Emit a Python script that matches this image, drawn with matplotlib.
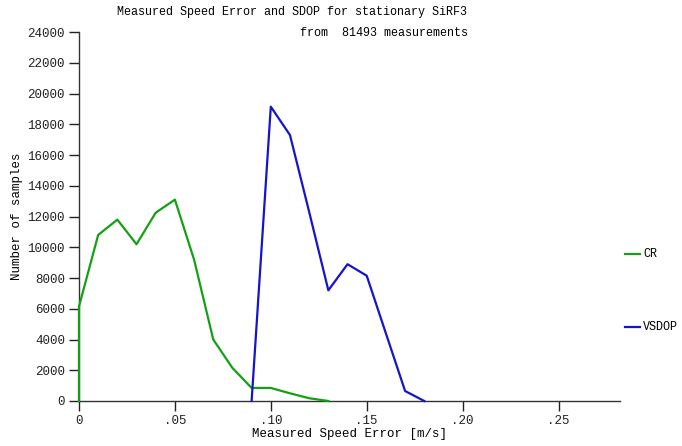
import matplotlib
matplotlib.use("Agg")
import matplotlib.pyplot as plt

# CR: measured speed error histogram
cr_x = [0.0, 0.0, 0.01, 0.02, 0.03, 0.04, 0.05, 0.06, 0.07, 0.08, 0.09, 0.10, 0.11, 0.12, 0.13]
cr_y = [0, 6150, 10800, 11800, 10200, 12250, 13100, 9200, 4000, 2150, 850, 850, 500, 180, 0]

# VSDOP histogram
vs_x = [0.09, 0.10, 0.11, 0.12, 0.13, 0.14, 0.15, 0.16, 0.17, 0.18]
vs_y = [0, 19150, 17300, 12300, 7200, 8900, 8150, 4400, 650, 0]

yticks = list(range(0, 24001, 2000))
xticks = [0, 0.05, 0.10, 0.15, 0.20, 0.25]
xticklabels = ["0", ".05", ".10", ".15", ".20", ".25"]

plt.rcParams['font.family'] = ['Liberation Mono', 'DejaVu Sans Mono']

fig = plt.figure(figsize=(6.82, 4.46), dpi=100)
ax = fig.add_axes([0.1158, 0.1009, 0.909 - 0.1158, 0.928 - 0.1009])

green = '#14a014'
blue = '#1414cc'
ax.plot(cr_x, cr_y, color=green, lw=1.6, label='CR', clip_on=False, zorder=3)
ax.plot(vs_x, vs_y, color=blue, lw=1.6, label='VSDOP', clip_on=False, zorder=3)

ax.set_xlim(0, 0.282)
ax.set_ylim(0, 24000)
ax.set_yticks(yticks)
ax.set_yticklabels([str(v) for v in yticks])
ax.set_xticks(xticks)
ax.set_xticklabels(xticklabels)
ax.tick_params(labelsize=9, length=7, width=1, colors='#222222', pad=3)
ax.tick_params(axis='x', pad=3)
for s in ['top', 'right']:
    ax.spines[s].set_visible(False)
for s in ['left', 'bottom']:
    ax.spines[s].set_color('#333333')
    ax.spines[s].set_linewidth(1)
ax.margins(0)

ax.set_xlabel('Measured Speed Error [m/s]', fontsize=9, labelpad=1)
ax.set_ylabel('Number of samples', fontsize=9, labelpad=3)

fig.text(0.172, 0.972, 'Measured Speed Error and SDOP for stationary SiRF3',
         fontsize=8.5, ha='left', va='center')
fig.text(0.44, 0.925, 'from  81493 measurements', fontsize=8.5, ha='left', va='center')

# legend outside on the right
fig.lines.append(plt.Line2D([625 / 682, 640 / 682], [1 - 254 / 446] * 2,
                            color=green, lw=1.6, transform=fig.transFigure))
fig.text(643 / 682, 1 - 254 / 446, 'CR', fontsize=8.5, va='center', ha='left')
fig.lines.append(plt.Line2D([625 / 682, 640 / 682], [1 - 327 / 446] * 2,
                            color=blue, lw=1.6, transform=fig.transFigure))
fig.text(643 / 682, 1 - 327 / 446, 'VSDOP', fontsize=8.5, va='center', ha='left')

fig.savefig('out.png', dpi=100)
